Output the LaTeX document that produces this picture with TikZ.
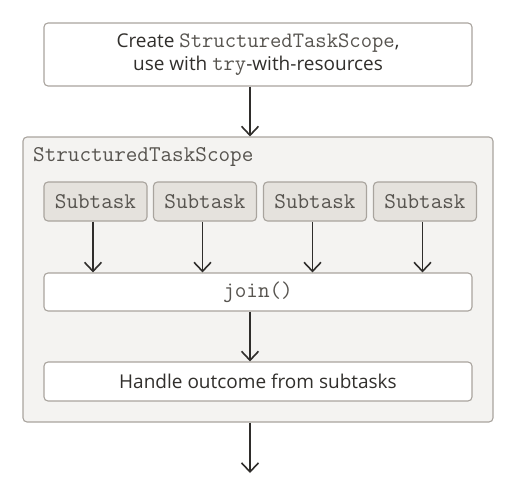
\documentclass[tikz,border=0pt]{standalone}
\usepackage{fontspec}
\setmainfont{Open Sans}
\usetikzlibrary{arrows.meta,positioning}
\definecolor{Edge}{HTML}{A9A49E}
\definecolor{Panel}{HTML}{F4F3F1}
\definecolor{Task}{HTML}{E5E2DD}
\definecolor{Ink}{HTML}{312F2C}
\definecolor{Code}{HTML}{57544F}
\definecolor{Wire}{HTML}{2F2D2B}
\newcommand{\code}[1]{{\fontsize{22}{23}\ttfamily\color{Code}#1}}
\begin{document}
\begin{tikzpicture}[x=1pt,y=-1pt,
    box/.style={draw=Edge,fill=white,rounded corners=4pt,line width=1.1pt,
      minimum width=428pt,align=center,text=Ink,inner sep=0pt,
      font=\fontsize{19}{23}\selectfont},
    task/.style={draw=Edge,fill=Task,rounded corners=4pt,line width=1.1pt,
      minimum width=103pt,minimum height=39pt,inner sep=0pt,text=Code,
      font=\fontsize{22.5}{23}\ttfamily},
    flow/.style={draw=Wire,line width=1.8pt,-{Straight Barb[length=9pt,width=17pt,line width=1.6pt]}}
  ]
    \useasboundingbox (0,0) rectangle (517,493);
    \node[box,minimum height=63pt] (create) at (258,54.5)
      {Create \code{StructuredTaskScope},\\
       use with \code{try}-with-resources};
    \node[draw=Edge,fill=Panel,rounded corners=4pt,line width=1.1pt,
      minimum width=470pt,minimum height=285pt] (scope) at (258,279.5) {};
    \node[anchor=west,inner sep=0pt,text=Code,font=\fontsize{22.5}{23}\ttfamily]
      (title) at (33,157) {StructuredTaskScope};
    \node[task] (sub1) at (95.5,201.5) {Subtask};
    \node[task] (sub2) at (205,201.5) {Subtask};
    \node[task] (sub3) at (315,201.5) {Subtask};
    \node[task] (sub4) at (425,201.5) {Subtask};
    \node[box,minimum height=38pt,text=Code,font=\fontsize{22.5}{23}\ttfamily] (join) at (258,292) {join()};
    \node[box,minimum height=39pt] (handle) at (258,381.5) {Handle outcome from subtasks};
    \coordinate (out) at (250,473);
    \draw[flow] (create.south -| out) -- (scope.north -| out);
    \foreach \i in {1,...,4}
      \draw[flow] ([xshift=-2.5pt]sub\i.south) -- ([xshift=-2.5pt]sub\i.south |- join.north);
    \draw[flow] (join.south -| out) -- (handle.north -| out);
    \draw[flow] (scope.south -| out) -- (out);
  \end{tikzpicture}
\end{document}
